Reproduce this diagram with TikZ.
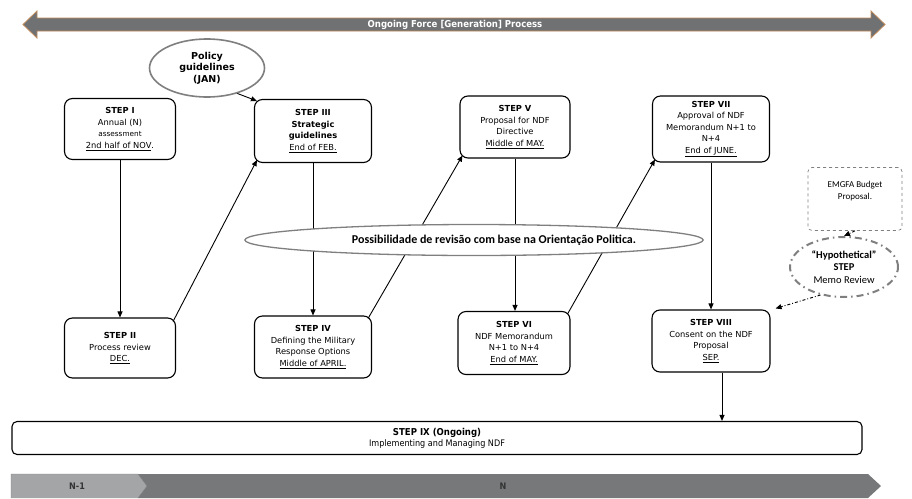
\documentclass[tikz,border=0pt]{standalone}
\usepackage{fontspec}
\setmainfont{DejaVu Sans}
\newfontfamily\condf{DejaVu Sans Condensed}
\newfontfamily\calf{Carlito}
\usetikzlibrary{arrows.meta,shapes.geometric,calc}
\definecolor{barg}{HTML}{6F7173}
\definecolor{bartan}{HTML}{C08A5A}
\definecolor{nlight}{HTML}{A3A5A7}
\definecolor{ndark}{HTML}{76787A}
\definecolor{elg}{HTML}{7F7F7F}
\begin{document}
\begin{tikzpicture}[x=1pt,y=-1pt,
  stepbox/.style={draw=black, line width=1.1pt, rounded corners=8pt, fill=white, align=center,
    font=\fontsize{8.3}{11.8}\selectfont, inner sep=0pt},
  conn/.style={draw=black, line width=0.9pt, -{Triangle[length=6pt,width=5pt]}},
  dconn/.style={draw=black, line width=0.9pt, dash dot, -{Triangle[length=6pt,width=5pt]}},
  lbl/.style={inner sep=0pt, align=center}]
\useasboundingbox (0,0) rectangle (912,498);
% top double arrow
\filldraw[fill=barg, draw=bartan, line width=0.8pt]
  (23,24.5) -- (37,11) -- (37,18) -- (871,18) -- (871,11) -- (885,24.5) -- (871,38) -- (871,31) -- (37,31) -- (37,38) -- cycle;
\node[lbl, text=white, font=\condf\bfseries\fontsize{9.5}{11}\selectfont] (toptxt) at (455,24.5) {Ongoing Force [Generation] Process};
% steps
\node[stepbox, minimum width=111pt, minimum height=61pt] (s1) at (120,129)
  {\textbf{STEP I}\\Annual (N)\\{\fontsize{7.3}{9}\selectfont assessment}\\\underline{2nd half of NOV}.};
\node[stepbox, minimum width=111pt, minimum height=60pt] (s2) at (120,348)
  {\textbf{STEP II}\\Process review\\\underline{DEC.}};
\node[stepbox, minimum width=117pt, minimum height=63pt] (s3) at (313,131)
  {\textbf{STEP III}\\\textbf{Strategic}\\\textbf{guidelines}\\\underline{End of FEB.}};
\node[stepbox, minimum width=117pt, minimum height=62pt] (s4) at (313,347)
  {\textbf{STEP IV}\\Defining the Military\\Response Options\\\underline{Middle of APRIL.}};
\node[stepbox, minimum width=110pt, minimum height=62pt] (s5) at (515,127)
  {\textbf{STEP V}\\Proposal for NDF\\Directive\\\underline{Middle of MAY.}};
\node[stepbox, minimum width=112pt, minimum height=63pt] (s6) at (514,343)
  {\textbf{STEP VI}\\NDF Memorandum\\N+1 to N+4\\\underline{End of MAY.}};
\node[stepbox, minimum width=117pt, minimum height=66pt, font=\fontsize{8.3}{11.5}\selectfont] (s7) at (711,129)
  {\textbf{STEP VII}\\Approval of NDF\\Memorandum N+1 to\\N+4\\\underline{End of JUNE.}};
\node[stepbox, minimum width=118pt, minimum height=62pt] (s8) at (711,341)
  {\textbf{STEP VIII}\\Consent on the NDF\\Proposal\\\underline{SEP.}};
\node[stepbox, rounded corners=5pt, minimum width=850pt, minimum height=33pt, font=\condf\fontsize{9}{11}\selectfont] (s9) at (437,438)
  {{\bfseries\fontsize{9.5}{11}\selectfont STEP IX (Ongoing)}\\Implementing and Managing NDF};
% policy ellipse
\node[ellipse, draw=elg, line width=1.6pt, fill=white, minimum width=115pt, minimum height=58pt, inner sep=0pt,
  align=center, font=\bfseries\fontsize{9.5}{11.5}\selectfont] (policy) at (207,68) {Policy\\guidelines\\(JAN)};
% budget box
\node[draw=gray, dashed, line width=0.7pt, rounded corners=4pt, minimum width=94pt, minimum height=63pt,
  align=center, font=\calf\fontsize{9}{12}\selectfont] (budget) at (855,199) {EMGFA Budget\\Proposal.\\[6pt]};
% hypothetical ellipse
\node[ellipse, draw=elg, line width=2pt, dash pattern=on 7pt off 4pt on 1.5pt off 4pt, minimum width=108pt, minimum height=60pt,
  inner sep=0pt, align=center, font=\calf\fontsize{10.5}{12.5}\selectfont] (hyp) at (844,267)
  {\textbf{“Hypothetical”}\\\textbf{STEP}\\Memo Review};
% connectors
\draw[conn] (policy.-40) -- ($(s3.north west)+(3,2)$);
\draw[conn] (s1) -- (s2);
\draw[conn] ($(s2.north east)+(-3,4)$) -- ($(s3.south west)+(3,-3)$);
\draw[conn] (s3) -- (s4);
\draw[conn] ($(s4.north east)+(-4,3)$) -- ($(s5.south west)+(3,-3)$);
\draw[conn] (s5.south) -- (s5.south |- s6.north);
\draw[conn] ($(s6.north east)+(-3,3)$) -- ($(s7.south west)+(3,-3)$);
\draw[conn] (s7) -- (s8);
\draw[conn] ($(s8.south)+(11,0)$) -- ($(s8.south |- s9.north)+(11,0)$);
\draw[dconn] (budget.south) -- (hyp.north);
\draw[dconn] (hyp.-130) -- ($(s8.north east)+(5,-1)$);
% possibilidade ellipse
\node[ellipse, draw=elg, line width=1.3pt, fill=white, minimum width=448pt, minimum height=31pt, inner sep=0pt,
  font=\calf\bfseries\fontsize{12}{14}\selectfont] (poss) at (474,240) {\hspace*{40pt}Possibilidade de revisão com base na Orientação Politica.};
% bottom bar
\fill[ndark] (138,474) -- (868,474) -- (881,486) -- (868,498) -- (138,498) -- cycle;
\filldraw[fill=nlight, draw=gray, line width=0.4pt] (11,498) -- (11,474) -- (138,474) -- (147,486) -- (138,498);
\node[lbl, text=black!80, font=\condf\bfseries\fontsize{9}{10}\selectfont] (n1) at (77,486) {N-1};
\node[lbl, text=black!80, font=\condf\bfseries\fontsize{9}{10}\selectfont] (n) at (503,486) {N};
\end{tikzpicture}
\end{document}
